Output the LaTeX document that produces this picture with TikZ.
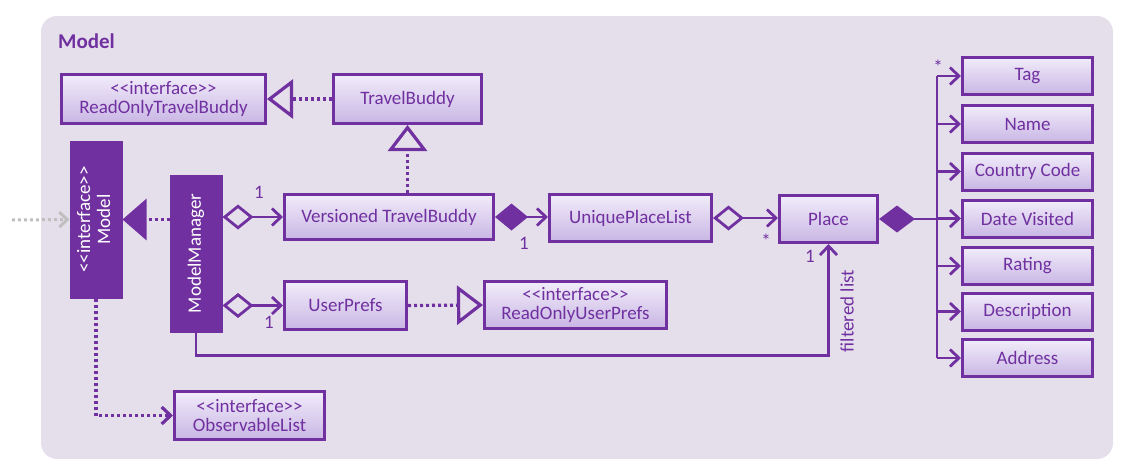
\documentclass[tikz,border=0pt]{standalone}
\usepackage{fontspec}
\newfontfamily\cf{Carlito}
\usetikzlibrary{arrows.meta}
\definecolor{pp}{HTML}{7030A0}
\definecolor{bg}{HTML}{E5DFEC}
\definecolor{ftop}{HTML}{F1ECFA}
\definecolor{fbot}{HTML}{C9B6E4}
\definecolor{gr}{HTML}{BFBFBF}
\begin{document}
\begin{tikzpicture}[x=1pt,y=-1pt,
  txt/.style={font=\cf\fontsize{19}{21}\selectfont},
  cls/.style={txt, draw=pp, line width=3pt, top color=ftop, bottom color=fbot, text=pp, align=center, inner sep=0pt},
  dark/.style={txt, draw=pp, fill=pp, text=white, line width=1pt, inner sep=0pt},
  conn/.style={draw=pp, line width=2.8pt},
  dot/.style={conn, line width=3.2pt, dash pattern=on 3pt off 3pt},
  barb/.style={-{Straight Barb[length=9pt,width=17pt]}},
  odia/.style={{Diamond[open,length=31pt,width=25pt]}-{Straight Barb[length=9pt,width=17pt]}},
  fdia/.style={{Diamond[length=33pt,width=27pt]}-{Straight Barb[length=9pt,width=17pt]}},
  otri/.style={-{Triangle[open,length=26pt,width=39pt]}},
  ftri/.style={-{Triangle[length=24pt,width=41pt]}},
  lbl/.style={txt, text=pp, inner sep=0pt},
  star/.style={text=pp, font=\cf\fontsize{19}{20}\selectfont, inner sep=0pt}
]
\useasboundingbox (0,0) rectangle (1127,474);
\fill[bg, rounded corners=16pt] (41,16) rectangle (1113,459);
\node[anchor=west, text=pp, font=\cf\bfseries\fontsize{21}{24}\selectfont, inner sep=0pt] (title) at (58,41) {Model};

% classes
\node[cls, minimum width=204pt, minimum height=49pt] (rotb) at (163.5,99) {{<}{<}interface{>}{>}\\[-2pt]ReadOnlyTravelBuddy};
\node[cls, minimum width=148pt, minimum height=49pt] (tb) at (407.5,99) {TravelBuddy};
\node[dark, minimum width=52pt, minimum height=157pt] (model) at (96,219.5) {\rotatebox{90}{\begin{tabular}{@{}c@{}}{<}{<}interface{>}{>}\\[-1pt]Model\end{tabular}}};
\node[dark, minimum width=52pt, minimum height=157pt] (mm) at (196,253.5) {\rotatebox{90}{ModelManager}};
\node[cls, minimum width=209pt, minimum height=45pt] (vtb) at (389,217) {Versioned TravelBuddy};
\node[cls, minimum width=162pt, minimum height=47pt] (upl) at (630.5,218) {UniquePlaceList};
\node[cls, minimum width=98pt, minimum height=47pt] (place) at (828.5,219) {Place};
\node[cls, minimum width=122pt, minimum height=48pt] (up) at (345.5,305.5) {UserPrefs};
\node[cls, minimum width=182pt, minimum height=47pt] (roup) at (575.5,305) {{<}{<}interface{>}{>}\\[-2pt]ReadOnlyUserPrefs};
\node[cls, minimum width=150pt, minimum height=48pt] (ol) at (249.5,415.5) {{<}{<}interface{>}{>}\\[-2pt]ObservableList};

\foreach \n/\t/\y in {tag/Tag/76, name/Name/124, cc/Country Code/171.5, dv/Date Visited/218.5, rating/Rating/266, desc/Description/311.5, addr/Address/358}{
  \node[cls, minimum width=130pt, minimum height=37pt] (\n) at (1027.5,\y) {\t};
}

% connectors
\draw[dot, otri] (tb.west) -- (rotb.east);
\draw[dot, otri] (vtb.north -| tb.south) -- (tb.south);
\draw[dot, ftri] (mm.west |- model.east) -- (model.east);
\coordinate (ext) at (12,220);
\draw[draw=gr, line width=3pt, dash pattern=on 3pt off 3pt, -{Straight Barb[length=8pt,width=15pt]}] (ext) -- (model.west);
\draw[conn, odia] (mm.east |- vtb.west) -- (vtb.west);
\draw[conn, odia] (mm.east |- up.west) -- (up.west);
\draw[dot, otri] (up.east) -- (roup.west);
\draw[conn, fdia] (vtb.east) -- (upl.west |- vtb.east);
\draw[conn, odia] (upl.east) -- (place.west |- upl.east);
\draw[conn, barb] (mm.south) -- ++(0,23) -| (place.south);
\draw[dot, barb] (model.south) |- (ol.west);

% composition to attributes
\coordinate (bus) at (937,219);
\draw[conn, {Diamond[length=36pt,width=27pt]}-] (place.east) -- (bus);
\draw[conn] (bus |- tag.west) -- (bus |- addr.west);
\foreach \n in {tag,name,cc,dv,rating,desc,addr}{
  \draw[conn, barb] (bus |- \n.west) -- (\n.west);
}

% labels
\node[lbl] (l1) at (259,192) {1};
\node[lbl] (l2) at (269,322) {1};
\node[lbl] (l3) at (524,243) {1};
\node[star] (s1) at (766,241) {*};
\node[lbl] (l4) at (810,256) {1};
\node[star] (s2) at (938,67) {*};
\node[lbl, rotate=90] (fl) at (847,311) {filtered list};
\end{tikzpicture}
\end{document}
